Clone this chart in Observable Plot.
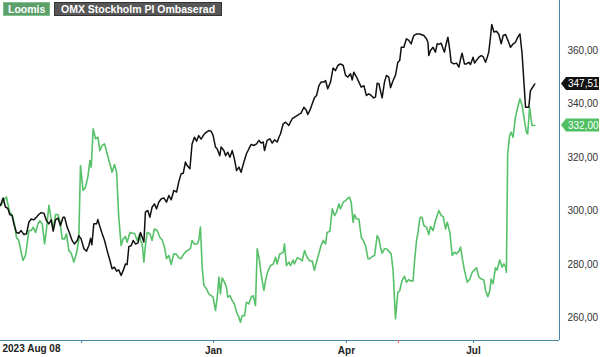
<!DOCTYPE html>
<html>
<head>
<meta charset="utf-8">
<script src="https://cdn.jsdelivr.net/npm/d3@7"></script>
<script src="https://cdn.jsdelivr.net/npm/@observablehq/plot@0.6"></script>
<style>
  html, body { margin: 0; padding: 0; background: #fff; }
  #wrap { position: relative; width: 600px; height: 357px; font-family: "Liberation Sans", Arial, sans-serif; }
  .leg { position: absolute; top: 2px; height: 14px; line-height: 12px; font-size: 10.5px; font-weight: bold; color: #fff; padding: 0 4px; box-sizing: border-box; white-space: nowrap; }
</style>
</head>
<body>
<div id="wrap"></div>
<script>
// Trading-day index (t) and values
const loomisT = [0,1.2,1.9,2.8,3.4,4.3,5.4,6.5,7.4,8.5,9.6,10.5,11.6,12.4,13.2,14.3,15.2,16.3,17.4,18.3,19.4,20.5,21.4,22.5,23.6,24.5,25.6,26.7,27.6,28.7,29.8,30.7,31.8,32.9,34.1,35.3,36.4,37.2,38.4,39.5,40.6,41.6,42.2,43.1,44.2,45.3,46.2,47.3,48.4,49.6,50.9,51.9,53.0,54.0,55.0,56.1,57.1,58.1,58.9,60.2,61.2,62.3,63.6,64.8,
  65.1,65.9,66.7,67.4,68.2,69.5,70.5,71.6,72.9,74.1,75.2,76.3,77.2,78.3,79.4,80.6,81.9,82.9,84.0,85.3,86.5,87.6,88.4,89.1,90.2,91.5,92.2,93.0,93.8,94.6,95.8,96.9,98.0,98.9,100.0,100.8,101.6,102.3,103.1,104.2,105.1,105.7,106.7,107.8,108.8,109.8,110.9,111.6,112.4,113.5,114.4,115.5,116.6,117.5,118.6,119.4,120.3,121.2,122.5,123.3,124.0,124.8,125.6,126.9,127.9,128.7,129.9,
  130.2,131.5,132.1,133.0,134.1,134.9,136.1,136.7,138.0,139.2,140.3,141.4,142.6,143.9,145.0,146.0,147.0,148.1,149.1,150.1,151.2,151.9,153.2,154.3,155.4,156.3,157.4,158.1,159.4,160.5,161.2,162.3,163.1,164.0,164.7,165.6,166.7,167.8,168.7,169.8,170.9,171.8,172.9,174.0,175.2,176.0,176.7,177.5,178.6,179.5,180.6,181.7,182.6,183.7,184.8,185.7,186.8,187.9,188.8,189.9,190.7,191.9,192.6,193.5,194.1,195.0,
  195.3,196.1,196.9,198.1,199.2,200.0,201.2,202.3,203.9,205.0,205.9,207.0,207.8,209.0,210.1,211.2,212.1,213.2,214.0,214.7,215.8,217.1,218.3,219.4,220.5,221.4,222.5,223.6,224.8,225.6,226.7,227.6,228.2,229.1,230.2,231.0,232.2,233.3,234.1,234.9,235.3,235.9,236.8,237.5,238.4,239.5,240.6,241.6,242.6,243.7,244.6,245.2,246.1,246.7,247.2,248.5];
const loomisV = [302.1,303.3,304.5,305.2,302.7,299.6,298.7,295.2,290.2,289,284.6,281.5,283.4,287.7,292.7,292.7,294,292,295.2,296.4,295.2,287.7,293.3,302.1,297,293.3,298.7,298.7,296.4,289.6,289.6,291.5,285.2,284.2,280.9,284,289,317,307.7,308.9,312.6,318.9,316.4,330.7,327,327.6,322.6,324.5,325.1,321.4,317.6,314.5,317.4,314.5,297.7,287.1,289.6,290.5,288.3,292,291.7,291.7,289,291.5,
  289,287.7,280.9,287.1,292,291.5,289,293.3,292.7,290.2,289.2,286.5,282.2,283.4,280,284,283.8,282.5,282.2,284,285,285.5,286.2,289,287.7,287.7,289,294,279,272.2,270.9,269,268.4,267.8,262.8,267.8,275.3,269,275,273.4,271.5,267.8,268.4,266.5,265.3,262.2,260.3,258.4,260.9,260.9,265.9,265.3,267.8,268.4,264.7,285.9,282.2,276.5,270.3,274.1,276.5,278.4,279.6,280.2,282.7,280.2,284,
  284,284.6,287.7,279.6,280.9,279.6,281.7,280.2,282.5,282.2,281.3,285.2,282.7,281.3,281.3,277.8,280.9,284.2,287.1,289,287.7,292,292.4,300.8,298.3,299.6,302.7,300.8,303.3,303.9,304.5,305.2,303.3,295.8,298.7,297,297,290.2,289,287.1,282.2,282.2,283,283.4,290.8,289.6,286.5,284.2,285.9,285.9,285,284,277.8,259.7,269.6,270.3,274.1,275.6,273.4,274.4,273.9,273.9,281.5,289,291.5,297,
  297.7,297.7,294.6,294,291.2,294.2,292.7,296.4,300.2,298.3,297.9,293.3,295.8,292,283.4,284.6,284,285,286.5,282.7,277.8,273.4,274.6,277.1,278,278.8,275.3,274.6,274.2,270.3,268,270.3,274.6,272.8,278.8,278,281.7,279,280.2,279.2,277.1,321.4,328.2,329.5,327.6,335.1,338.8,342,339.5,333.8,329.5,328.8,338.8,335.1,332,332];

const omxT = [0,1.2,2.3,3.4,4.3,5.4,6.2,7.4,8.5,9.6,10.9,12.1,13.2,14.3,15.5,16.7,17.8,18.9,20.2,21.4,22.5,23.6,24.5,25.6,26.7,27.9,29.1,29.8,31.0,32.2,33.3,34.4,35.7,36.4,37.5,38.8,40.0,41.1,41.9,42.5,43.4,44.7,45.3,46.2,47.3,48.4,49.6,50.9,51.9,53.0,54.0,55.0,56.1,57.1,58.1,58.9,59.7,60.8,61.7,62.8,63.9,
  65.1,66.7,67.4,68.5,69.5,70.5,71.6,72.6,73.6,74.7,76.0,77.2,78.3,79.4,80.6,81.9,82.9,84.0,85.0,86.0,86.8,88.1,89.1,90.2,91.2,92.2,93.3,94.6,95.8,96.9,98.0,98.9,100.0,100.8,102.0,102.6,103.9,104.7,105.7,106.7,107.8,108.8,109.8,110.9,111.9,113.2,114.4,115.5,116.6,117.8,119.1,120.2,121.2,122.2,122.8,124.0,125.3,126.4,127.4,128.7,129.5,
  130.2,131.5,132.6,134.1,135.7,137.2,138.8,139.8,141.1,142.3,142.9,143.9,145.0,146.0,147.0,148.1,149.1,150.4,151.2,152.2,153.5,154.7,155.8,156.9,158.1,159.4,160.5,161.6,162.8,163.6,164.3,165.6,166.7,167.8,169.0,170.2,171.3,172.4,173.6,174.4,175.2,176.0,176.7,177.5,178.6,179.5,180.6,181.4,182.6,183.7,184.8,185.7,186.4,187.6,188.8,189.9,191.0,192.2,193.5,195.0,
  196.9,198.1,198.8,199.2,200.0,201.2,202.3,203.1,203.9,205.0,205.9,206.5,207.1,208.1,209.0,209.6,210.9,212.1,213.2,214.0,214.7,215.8,216.7,217.8,218.6,219.8,220.5,221.4,222.5,223.6,224.5,225.6,226.4,227.1,227.9,228.5,229.5,230.7,231.8,232.9,233.8,234.9,236.0,237.2,238.5,239.5,240.6,241.6,242.6,243.4,244.2,245.0,245.7,246.5,247.3,248.5];
const omxV = [302.1,304.9,301.5,301,298.7,298.3,295.2,292,291.7,292.7,291.2,291.5,295.8,297,296.7,297.7,298.7,299.4,299.2,296.4,295.2,296.7,292.5,296.7,297.4,294.6,297.7,297.7,294,291.5,289,287.7,289,290.8,289.6,285.9,285,287.1,289.8,287.4,295.2,295.2,296.8,294.2,291.5,289,285.2,281.5,278.4,279,277.5,278,275.9,277.8,280.2,280,286.7,287.1,289,287.7,288,
  292,288.4,299.6,300.2,297.7,301.4,302.7,300.8,303.3,304.5,304.9,303.3,305.8,304.2,307.7,307.1,310.8,313.9,314.1,318.3,317,315.8,325.1,327.6,326.1,328.2,326.9,328.6,329.5,330.1,329.8,328.2,323.9,323.2,320.7,323.9,322.6,320.7,322,320.1,322.6,319.5,315.1,316.4,314.5,318.3,321.4,323.2,324.9,324.5,325.1,326.4,325.4,325.8,322.6,326.4,327,325.4,326.6,325.8,327.6,
  328.8,332.6,333.2,332,334.5,335.3,336.1,336.6,338.8,337.6,336.1,337.6,340.1,342.3,343.2,346.9,348.2,348.2,348.8,345.7,348.2,353.5,352.5,354.4,355,354.4,350.7,350.1,351.3,349,351.9,350.1,348.2,346.3,346.9,343.2,343.8,343.2,342.3,342.6,347.8,347.6,345,342.3,348.2,350.7,350.1,346.1,348.8,350.7,355.6,356.3,361.2,361.2,364.4,363.8,362.5,365.6,366.2,366.2,
  365.6,364.4,363.1,358.1,360,361.2,359.4,362.5,362.3,362.7,360.6,359.4,361.9,365,360,355.6,355,355.3,353.8,356.9,359,355,355,355.6,354.8,357.5,355.3,356.3,357.5,358.1,357.7,355.6,357.5,359.4,365,369.7,366.9,367.2,366,362.5,365.6,366,363.8,361.2,362.5,363.1,365,366.2,358.8,348.8,338.8,338.8,338.8,345,346,347.51];

const yTicks = [260, 280, 300, 320, 340, 360];
const xTickPos = [37.7, 99.1, 160.9, 220.0];
const xTickLabels = ["", "Jan", "Apr", "Jul"];
const markerPos = [185.1];
const startLabel = "2023 Aug 08";
const seriesNames = ["Loomis", "OMX Stockholm PI Ombaserad"];
const lastValues = [332.00, 347.51];

const loomis = loomisT.map((t, i) => ({t, v: loomisV[i]}));
const omx = omxT.map((t, i) => ({t, v: omxV[i]}));

const GREEN = "#56c168";
const BLACK = "#111";
const AXIS = "#4a86a6";
const yMin = 251.6, yMax = 378.7;
const fmt = d => d.toFixed(2).replace(".", ",");

function priceTag(value, color) {
  return (index, scales, values, dimensions) => {
    const y = scales.y(value);
    const x0 = dimensions.width - dimensions.marginRight + 2;
    const g = d3.create("svg:g");
    const h = 13, w = 33, tip = 5;
    g.append("path")
      .attr("d", `M${x0},${y} L${x0 + tip},${y - h / 2} L${x0 + tip + w},${y - h / 2} L${x0 + tip + w},${y + h / 2} L${x0 + tip},${y + h / 2} Z`)
      .attr("fill", color);
    g.append("text")
      .attr("x", x0 + tip + 2).attr("y", y).attr("dy", "0.36em")
      .attr("text-anchor", "start")
      .attr("fill", "#fff").attr("font-size", 10)
      .attr("font-family", "Liberation Sans, Arial, sans-serif")
      .text(fmt(value));
    return g.node();
  };
}

const chart = Plot.plot({
  width: 600,
  height: 357,
  marginTop: 0,
  marginLeft: 0,
  marginRight: 41,
  marginBottom: 17,
  style: {fontFamily: "Liberation Sans, Arial, sans-serif", fontSize: "10px", background: "#fff", overflow: "visible"},
  x: {type: "linear", domain: [0, 260], axis: null, label: null},
  y: {domain: [yMin, yMax], axis: null, label: null},
  marks: [
    Plot.line(loomis, {x: "t", y: "v", stroke: GREEN, strokeWidth: 1.6}),
    Plot.line(omx, {x: "t", y: "v", stroke: BLACK, strokeWidth: 1.5}),
    Plot.ruleX([260], {stroke: AXIS, strokeWidth: 1}),
    Plot.ruleY([yMin], {stroke: AXIS, strokeWidth: 1}),
    Plot.axisX({ticks: xTickPos, tickFormat: (d, i) => xTickLabels[i], tickSize: 3, tickPadding: 3, stroke: AXIS, color: "#222", fontWeight: "bold", fontSize: 10, label: null}),
    Plot.axisX({ticks: markerPos, tickFormat: () => "", tickSize: 3, stroke: "#ff5a5a", label: null}),
    Plot.axisY({anchor: "right", ticks: yTicks, tickFormat: fmt, tickSize: 0, tickPadding: 8, color: "#333", fontSize: 10, label: null}),
    Plot.text([0], {x: d => d, frameAnchor: "bottom", dy: 11, textAnchor: "start", dx: 2, text: () => startLabel, fill: "#222", fontWeight: "bold", fontSize: 10}),
    priceTag(lastValues[1], "#111"),
    priceTag(lastValues[0], "#4fbf62")
  ]
});

const wrap = document.getElementById("wrap");
wrap.appendChild(chart);

const leg1 = document.createElement("div");
leg1.className = "leg";
leg1.style.left = "3px";
leg1.style.background = "#5c9f6b";
leg1.style.border = "1px solid #7fc08c";
leg1.style.padding = "0 4px";
leg1.textContent = seriesNames[0];
wrap.appendChild(leg1);

const leg2 = document.createElement("div");
leg2.className = "leg";
leg2.style.left = "54px";
leg2.style.background = "#575757";
leg2.style.border = "1px solid #333";
leg2.style.padding = "0 6px";
leg2.textContent = seriesNames[1];
wrap.appendChild(leg2);
</script>
</body>
</html>
